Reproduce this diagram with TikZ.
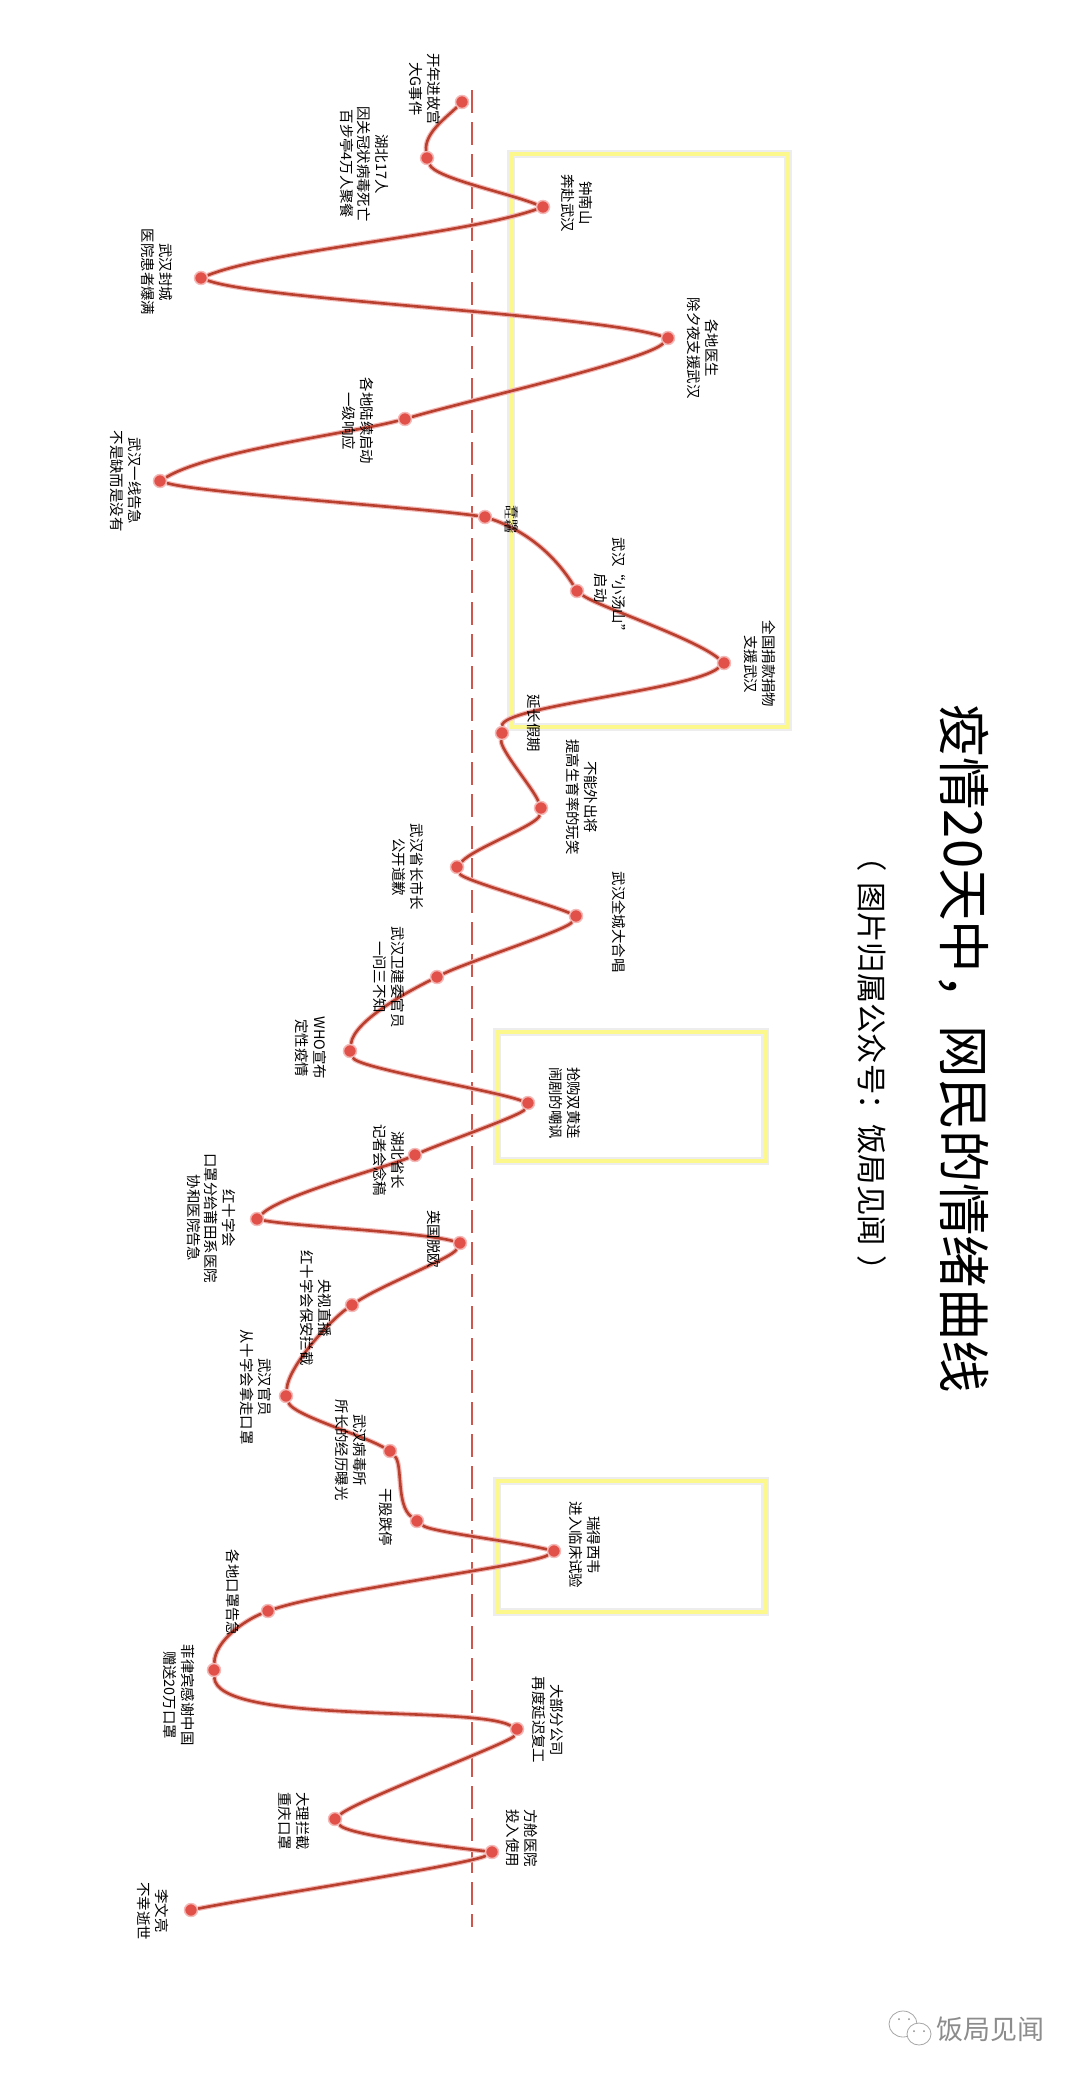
\documentclass[tikz,border=0pt]{standalone}
\usepackage{fontspec}
\setmainfont{Noto Sans CJK SC}
\definecolor{curvered}{HTML}{B9402F}
\definecolor{dotred}{HTML}{E2504A}
\definecolor{dashred}{HTML}{D2554C}
\definecolor{boxyellow}{HTML}{FDF88C}
\tikzset{
	eventdot/.style={circle,fill=dotred,draw=dotred!40,line width=1.5pt,inner sep=0pt,minimum size=13pt},
	eventlabel/.style={rotate=-90,align=center,inner sep=0pt,font=\fontsize{14.4}{17.5}\selectfont},
	moodcurve/.style={draw=curvered,line width=2.6pt,preaction={draw=dotred!40,line width=5pt}},
	midline/.style={draw=dashred,line width=2.8pt,dash pattern=on 23pt off 9pt},
	glowbox/.style={draw=boxyellow,line width=4.5pt,preaction={draw=black!7,line width=8pt}},
}
\begin{document}
\begin{tikzpicture}[x=1pt,y=1pt]
	\useasboundingbox (0,0) rectangle (1080,-2077);
	%yellow boxes
	\draw[glowbox] (511,-154) rectangle (788,-727);
	\draw[glowbox] (497,-1032) rectangle (765,-1161);
	\draw[glowbox] (497,-1481) rectangle (765,-1612);
	%dashed line
	\coordinate (midtop) at (472,-90);\coordinate (midbottom) at (472,-1927);
	\draw[midline] (midtop)--(midbottom);
	%points of the curve, (x,-y) in pixels
	\node[eventdot] (palace) at (462,-102){};
	\node[eventdot] (hubei) at (427,-158){};
	\node[eventdot] (zhong) at (543,-207){};
	\node[eventdot] (lockdown) at (201,-278){};
	\node[eventdot] (doctors) at (668,-338){};
	\node[eventdot] (response) at (405,-419){};
	\node[eventdot] (frontline) at (160,-481){};
	\node[eventdot] (firstnight) at (485,-517){};
	\node[eventdot] (xiaotang) at (577,-591){};
	\node[eventdot] (donate) at (724,-663){};
	\node[eventdot] (holiday) at (502,-733){};
	\node[eventdot] (birth) at (541,-808){};
	\node[eventdot] (apology) at (457,-867){};
	\node[eventdot] (chorus) at (576,-916){};
	\node[eventdot] (official) at (437,-977){};
	\node[eventdot] (who) at (350,-1051){};
	\node[eventdot] (shuanghuang) at (528,-1103){};
	\node[eventdot] (governor) at (415,-1155){};
	\node[eventdot] (redcross) at (257,-1219){};
	\node[eventdot] (brexit) at (460,-1243){};
	\node[eventdot] (cctv) at (352,-1305){};
	\node[eventdot] (mask) at (286,-1396){};
	\node[eventdot] (institute) at (390,-1451){};
	\node[eventdot] (stock) at (417,-1521){};
	\node[eventdot] (remdesivir) at (554,-1551){};
	\node[eventdot] (shortage) at (268,-1611){};
	\node[eventdot] (philippine) at (214,-1670){};
	\node[eventdot] (resume) at (517,-1729){};
	\node[eventdot] (dali) at (335,-1819){};
	\node[eventdot] (fangcang) at (492,-1852){};
	\node[eventdot] (liwenliang) at (191,-1910){};
	%the curve
	\draw[moodcurve] (palace) .. controls (447,-117) and (424,-133) .. (hubei);
	\draw[moodcurve] (hubei) .. controls (435,-178) and (508,-193) .. (zhong);
	\draw[moodcurve] (zhong) .. controls (463,-235) and (271,-250) .. (lockdown);
	\draw[moodcurve] (lockdown) .. controls (261,-300) and (587,-314) .. (doctors);
	\draw[moodcurve] (doctors) .. controls (648,-360) and (466,-401) .. (response);
	\draw[moodcurve] (response) .. controls (346,-434) and (210,-451) .. (frontline);
	\draw[moodcurve] (frontline) .. controls (200,-493) and (424,-508) .. (firstnight);
	\draw[moodcurve] (firstnight) .. controls (515,-527) and (549,-546) .. (xiaotang);
	\draw[moodcurve] (xiaotang) .. controls (597,-606) and (694,-638) .. (donate);
	\draw[moodcurve] (donate) .. controls (693,-690) and (502,-706) .. (holiday);
	\draw[moodcurve] (holiday) .. controls (500,-750) and (533,-788) .. (birth);
	\draw[moodcurve] (birth) .. controls (538,-825) and (474,-848) .. (apology);
	\draw[moodcurve] (apology) .. controls (462,-880) and (552,-905) .. (chorus);
	\draw[moodcurve] (chorus) .. controls (567,-930) and (467,-962) .. (official);
	\draw[moodcurve] (official) .. controls (411,-990) and (354,-1020) .. (who);
	\draw[moodcurve] (who) .. controls (357,-1068) and (492,-1090) .. (shuanghuang);
	\draw[moodcurve] (shuanghuang) .. controls (522,-1115) and (442,-1143) .. (governor);
	\draw[moodcurve] (governor) .. controls (387,-1167) and (281,-1195) .. (redcross);
	\draw[moodcurve] (redcross) .. controls (291,-1226) and (421,-1232) .. (brexit);
	\draw[moodcurve] (brexit) .. controls (452,-1258) and (382,-1285) .. (cctv);
	\draw[moodcurve] (cctv) .. controls (331,-1320) and (289,-1365) .. (mask);
	\draw[moodcurve] (mask) .. controls (293,-1415) and (362,-1435) .. (institute);
	\draw[moodcurve] (institute) .. controls (403,-1465) and (396,-1505) .. (stock);
	\draw[moodcurve] (stock) .. controls (431,-1532) and (512,-1541) .. (remdesivir);
	\draw[moodcurve] (remdesivir) .. controls (533,-1565) and (331,-1590) .. (shortage);
	\draw[moodcurve] (shortage) .. controls (246,-1620) and (215,-1640) .. (philippine);
	\draw[moodcurve] (philippine) .. controls (216,-1725) and (472,-1705) .. (resume);
	\draw[moodcurve] (resume) .. controls (512,-1742) and (357,-1800) .. (dali);
	\draw[moodcurve] (dali) .. controls (347,-1835) and (442,-1846) .. (fangcang);
	\draw[moodcurve] (fangcang) .. controls (472,-1864) and (251,-1898) .. (liwenliang);
	%labels
	\node[eventlabel] (lpalace) at (425,-89){开年进故宫\\大G事件};
	\node[eventlabel] (lhubei) at (364,-164){湖北17人\\因关冠状病毒死亡\\百步亭4万人聚餐};
	\node[eventlabel] (lzhong) at (577,-203){钟南山\\奔赴武汉};
	\node[eventlabel] (llockdown) at (157,-272){武汉封城\\医院患者爆满};
	\node[eventlabel] (ldoctors) at (703,-348){各地医生\\除夕夜支援武汉};
	\node[eventlabel] (lresponse) at (358,-421){各地陆续启动\\一级响应};
	\node[eventlabel] (lfrontline) at (126,-481){武汉一线告急\\不是缺而是没有};
	\node[eventlabel,yscale=.5,font=\fontsize{14}{14}\selectfont] (lfirstnight) at (512,-519){春晚\\吐槽};
	\node[eventlabel] (lxiaotang) at (610,-588){武汉“小汤山”\\启动};
	\node[eventlabel] (ldonate) at (760,-664){全国捐款捐物\\支援武汉};
	\node[eventlabel] (lholiday) at (534,-723){延长假期};
	\node[eventlabel] (lbirth) at (582,-797){不能外出将\\提高生育率的玩笑};
	\node[eventlabel] (lapology) at (408,-867){武汉省长市长\\公开道歉};
	\node[eventlabel] (lchorus) at (619,-922){武汉全城大合唱};
	\node[eventlabel] (lofficial) at (389,-977){武汉卫建委官员\\一问三不知};
	\node[eventlabel] (lwho) at (311,-1048){WHO宣布\\定性疫情};
	\node[eventlabel] (lshuanghuang) at (565,-1103){抢购双黄连\\闹剧的嘲讽};
	\node[eventlabel] (lgovernor) at (389,-1160){湖北省长\\记者会念稿};
	\node[eventlabel] (lredcross) at (211,-1218){红十字会\\口罩分给莆田系医院\\协和医院告急};
	\node[eventlabel] (lbrexit) at (434,-1239){英国脱欧};
	\node[eventlabel] (lcctv) at (316,-1308){央视直播\\红十字会保安拦截};
	\node[eventlabel] (lmask) at (256,-1387){武汉官员\\从十字会拿走口罩};
	\node[eventlabel] (linstitute) at (351,-1450){武汉病毒所\\所长的经历曝光};
	\node[eventlabel] (lstock) at (386,-1517){干股跌停};
	\node[eventlabel] (lremdesivir) at (585,-1545){瑞得西韦\\进入临床试验};
	\node[eventlabel] (lshortage) at (233,-1593){各地口罩告急};
	\node[eventlabel] (lphilippine) at (179,-1695){菲律宾感谢中国\\赠送20万口罩};
	\node[eventlabel] (lresume) at (548,-1720){大部分公司\\再度延迟复工};
	\node[eventlabel] (ldali) at (294,-1821){大理拦截\\重庆口罩};
	\node[eventlabel] (lfangcang) at (522,-1838){方舱医院\\投入使用};
	\node[eventlabel] (lliwenliang) at (153,-1911){李文亮\\不幸逝世};
	%title
	\node[rotate=-90,inner sep=0pt,font=\fontsize{52.5}{60}\selectfont] (title) at (964,-1049){疫情20天中，网民的情绪曲线};
	\node[rotate=-90,inner sep=0pt,font=\fontsize{30.3}{36}\selectfont] (subtitle) at (872,-1064){（\hspace{10pt}图片归属公众号：饭局见闻\hspace{10pt}）};
	%mark at the corner
	\draw[black!35,line width=0.8pt] (903,-2024) ellipse (14pt and 13pt);
	\draw[black!35,line width=0.8pt,fill=white] (919,-2034) ellipse (12pt and 11pt);
	\fill[black!45] (899,-2019) circle (1pt) (909,-2019) circle (1pt) (914,-2031) circle (1pt) (924,-2031) circle (1pt);
	\node[inner sep=0pt,text=black!45,font=\fontsize{27}{32}\selectfont] (mark) at (990,-2029){饭局见闻};
\end{tikzpicture}
\end{document}
